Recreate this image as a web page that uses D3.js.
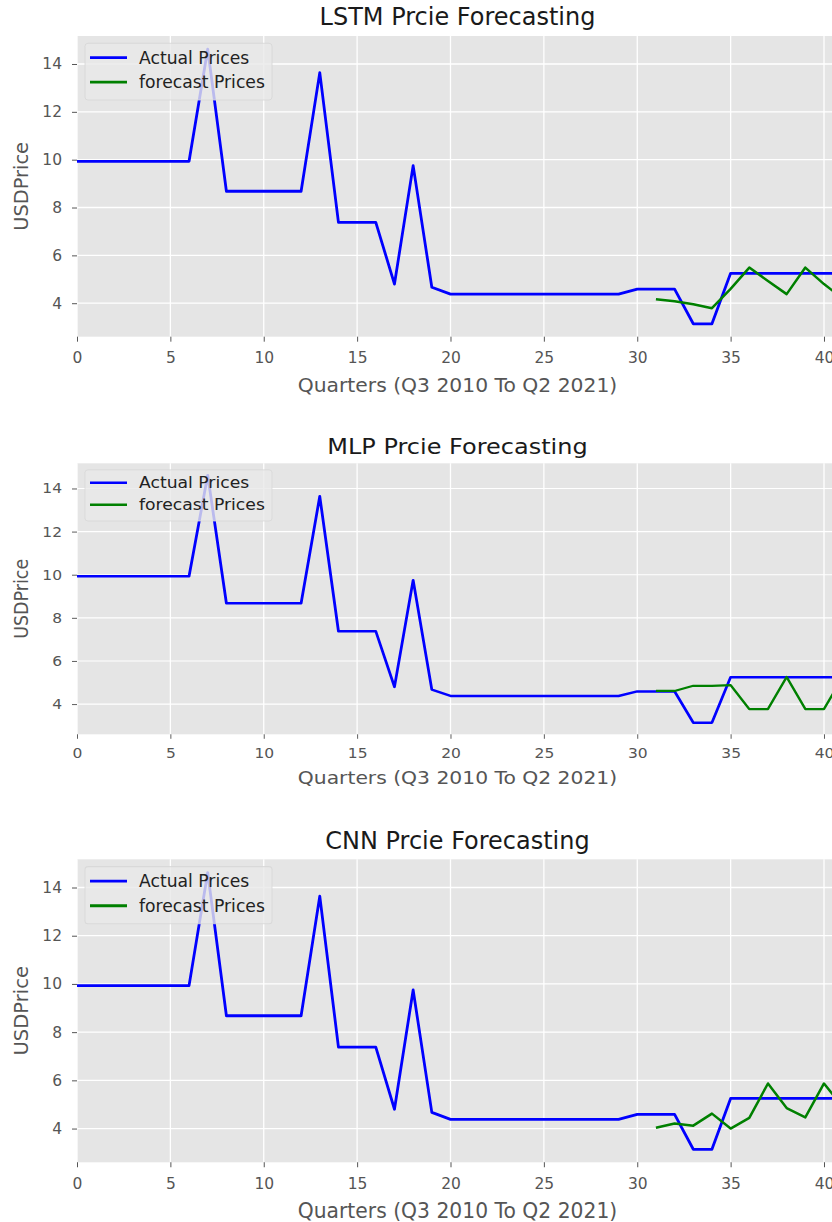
<!DOCTYPE html>
<html>
<head>
<meta charset="utf-8">
<script src="https://cdn.jsdelivr.net/npm/d3@7"></script>
<style>
  body { margin: 0; background: #fff; overflow: hidden; }
  svg { display: block; font-family: "DejaVu Sans", sans-serif; }
</style>
</head>
<body>
<div id="chart"></div>
<script>
// quarterly actual prices, index 0 = Q3 2010
const actualPrices = [
    9.93, 9.93, 9.93, 9.93, 9.93, 9.93, 9.93, 14.62, 8.68, 8.68,
    8.68, 8.68, 8.68, 13.64, 7.38, 7.38, 7.38, 4.8, 9.75, 4.67,
    4.38, 4.38, 4.38, 4.38, 4.38, 4.38, 4.38, 4.38, 4.38, 4.38,
    4.59, 4.59, 4.59, 3.14, 3.14, 5.25, 5.25, 5.25, 5.25, 5.25,
    5.25, 5.25, 5.25, 5.25
];

// forecasts start at quarter 31
const forecastStart = 31;
const lstmForecast = [4.17, 4.08, 3.96, 3.79, 4.6, 5.49, 4.93, 4.38, 5.49, 4.8, 4.2];
const mlpForecast = [4.61, 4.61, 4.85, 4.85, 4.88, 3.77, 3.77, 5.26, 3.77, 3.77, 5.26];
const cnnForecast = [4.03, 4.21, 4.12, 4.62, 4.0, 4.44, 5.87, 4.85, 4.46, 5.87, 4.9];

const panelTitles = ["LSTM Prcie Forecasting", "MLP Prcie Forecasting", "CNN Prcie Forecasting"];
const xTicks = [0, 5, 10, 15, 20, 25, 30, 35, 40];
const yTicks = [4, 6, 8, 10, 12, 14];
const legendLabels = ["Actual Prices", "forecast Prices"];
const xLabel = "Quarters (Q3 2010 To Q2 2021)";
const yLabel = "USDPrice";

const width = 832, height = 1222;
const plotLeft = 77, plotRight = 838;
const baseH = 302;

// plot top and drawn height of each panel
const panels = [
    { title: panelTitles[0], forecast: lstmForecast, top: 36, h: 300.7 },
    { title: panelTitles[1], forecast: mlpForecast, top: 463.3, h: 271 },
    { title: panelTitles[2], forecast: cnnForecast, top: 859.3, h: 303 }
];

const x = d3.scaleLinear().domain([0, 40.75]).range([plotLeft, plotRight]);
const y = d3.scaleLinear().domain([2.6, 15.17]).range([baseH, 0]);

const svg = d3.select("#chart").append("svg")
    .attr("width", width)
    .attr("height", height);

svg.append("defs").append("clipPath")
    .attr("id", "plot-clip")
    .append("rect")
    .attr("x", plotLeft).attr("y", 0)
    .attr("width", plotRight - plotLeft).attr("height", baseH);

const line = d3.line()
    .x(d => x(d.q))
    .y(d => y(d.v));

const actualPts = actualPrices.map((v, i) => ({ q: i, v }));

panels.forEach(p => {
    const g = svg.append("g")
        .attr("transform", `translate(0,${p.top}) scale(1,${p.h / baseH})`);

    g.append("rect")
        .attr("x", plotLeft).attr("y", 0)
        .attr("width", plotRight - plotLeft).attr("height", baseH)
        .attr("fill", "#e5e5e5");

    // grid
    g.selectAll(".gx").data(xTicks).enter().append("line")
        .attr("x1", d => x(d)).attr("x2", d => x(d))
        .attr("y1", 0).attr("y2", baseH)
        .attr("stroke", "#fff").attr("stroke-width", 1.3);
    g.selectAll(".gy").data(yTicks).enter().append("line")
        .attr("x1", plotLeft).attr("x2", plotRight)
        .attr("y1", d => y(d)).attr("y2", d => y(d))
        .attr("stroke", "#fff").attr("stroke-width", 1.3);

    const xAxis = g.append("g")
        .attr("transform", `translate(0,${baseH})`)
        .call(d3.axisBottom(x).tickValues(xTicks).tickSize(5).tickPadding(10.5));
    const yAxis = g.append("g")
        .attr("transform", `translate(${plotLeft},0)`)
        .call(d3.axisLeft(y).tickValues(yTicks).tickSize(5).tickPadding(10));

    [xAxis, yAxis].forEach(a => {
        a.select(".domain").remove();
        a.selectAll(".tick line").attr("stroke", "#555");
        a.selectAll(".tick text")
            .attr("fill", "#555")
            .attr("font-size", 15.5)
            .attr("font-family", "DejaVu Sans");
    });

    const plot = g.append("g").attr("clip-path", "url(#plot-clip)");

    plot.append("path")
        .datum(actualPts)
        .attr("d", line)
        .attr("fill", "none")
        .attr("stroke", "#0000ff")
        .attr("stroke-width", 2.8)
        .attr("stroke-linejoin", "round");

    plot.append("path")
        .datum(p.forecast.map((v, i) => ({ q: forecastStart + i, v })))
        .attr("d", line)
        .attr("fill", "none")
        .attr("stroke", "#008000")
        .attr("stroke-width", 2.5)
        .attr("stroke-linejoin", "round");

    // legend
    const leg = g.append("g").attr("transform", `translate(${plotLeft + 8},7.3)`);
    leg.append("rect")
        .attr("width", 187).attr("height", 57).attr("rx", 3)
        .attr("fill", "#e9e9e9").attr("fill-opacity", 0.8)
        .attr("stroke", "#d6d6d6").attr("stroke-opacity", 0.8);
    legendLabels.forEach((lab, i) => {
        const ly = 14.4 + i * 24.6;
        leg.append("line")
            .attr("x1", 5).attr("x2", 42)
            .attr("y1", ly).attr("y2", ly)
            .attr("stroke", i === 0 ? "#0000ff" : "#008000")
            .attr("stroke-width", 2.8);
        leg.append("text")
            .attr("x", 54).attr("y", ly)
            .attr("dy", "0.35em")
            .attr("fill", "#222")
            .style("font-size", "17.2px")
            .text(lab);
    });

    g.append("text")
        .attr("x", (plotLeft + plotRight) / 2)
        .attr("y", -19)
        .attr("dy", "0.35em")
        .attr("text-anchor", "middle")
        .attr("fill", "#1a1a1a")
        .style("font-size", "24px")
        .text(p.title);

    g.append("text")
        .attr("x", (plotLeft + plotRight) / 2)
        .attr("y", baseH + 48)
        .attr("dy", "0.35em")
        .attr("text-anchor", "middle")
        .attr("fill", "#555")
        .style("font-size", "20.3px")
        .text(xLabel);

    g.append("text")
        .attr("transform", `translate(21.5,${baseH / 2}) rotate(-90)`)
        .attr("dy", "0.35em")
        .attr("text-anchor", "middle")
        .attr("fill", "#555")
        .style("font-size", "19.5px")
        .text(yLabel);
});
</script>
</body>
</html>
